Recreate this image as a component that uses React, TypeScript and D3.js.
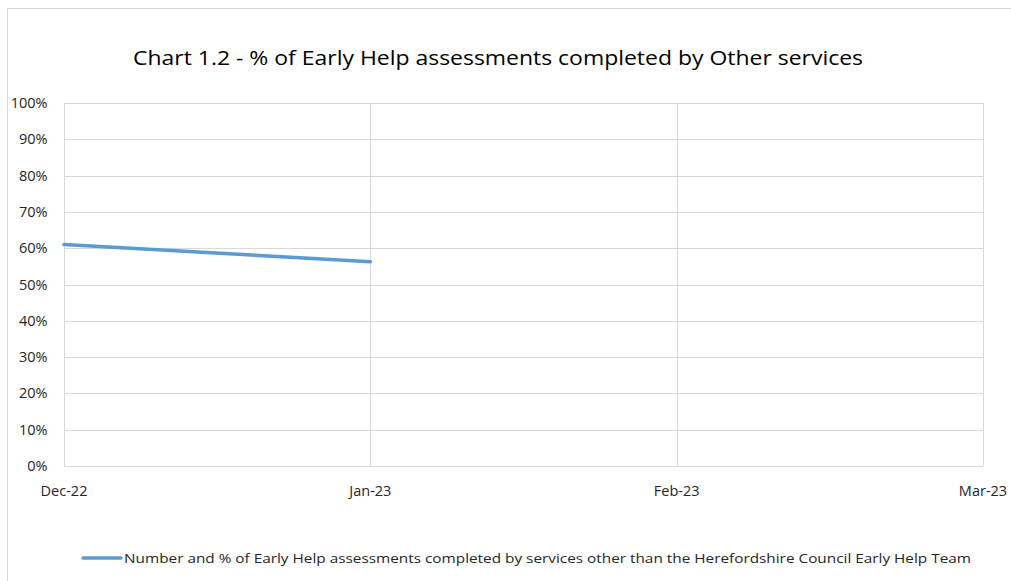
import React, { useEffect, useRef } from 'react';
import * as d3 from 'd3';

const months = ['Dec-22', 'Jan-23', 'Feb-23', 'Mar-23'];
const pctOther = [0.61, 0.563];
const yTicks = [0, 0.1, 0.2, 0.3, 0.4, 0.5, 0.6, 0.7, 0.8, 0.9, 1];
const title = 'Chart 1.2 - % of Early Help assessments completed by Other services';
const legendLabel =
  'Number and % of Early Help assessments completed by services other than the Herefordshire Council Early Help Team';

export default function App() {
  const ref = useRef<SVGSVGElement>(null);

  useEffect(() => {
    const width = 1011;
    const height = 581;
    const font = '"Open Sans", Lato, sans-serif';
    const grid = '#d9d9d9';
    const ink = '#262626';
    const m = { left: 64, right: 983, top: 103, bottom: 466 };

    const svg = d3.select(ref.current);
    svg.selectAll('*').remove();
    svg.attr('viewBox', [0, 0, width, height]).attr('width', width).attr('height', height);

    // chart frame
    svg
      .append('rect')
      .attr('x', 7.5)
      .attr('y', 8.5)
      .attr('width', width + 20)
      .attr('height', height + 20)
      .attr('fill', '#fff')
      .attr('stroke', grid);

    const x = d3
      .scalePoint<string>()
      .domain(months)
      .range([m.left, m.right]);
    const y = d3.scaleLinear().domain([0, 1]).range([m.bottom, m.top]);

    // horizontal grid + y labels
    svg
      .append('g')
      .selectAll('line')
      .data(yTicks)
      .join('line')
      .attr('x1', m.left)
      .attr('x2', m.right)
      .attr('y1', (d) => Math.round(y(d)) + 0.5)
      .attr('y2', (d) => Math.round(y(d)) + 0.5)
      .attr('stroke', grid);

    svg
      .append('g')
      .selectAll('text')
      .data(yTicks)
      .join('text')
      .attr('x', 47.5)
      .attr('y', (d) => y(d) + 5)
      .attr('text-anchor', 'end')
      .attr('font-family', font)
      .attr('font-size', 14.5)
      .attr('fill', ink)
      .text((d) => d3.format('.0%')(d));

    // vertical grid + x labels
    svg
      .append('g')
      .selectAll('line')
      .data(months)
      .join('line')
      .attr('x1', (d) => Math.round(x(d)!) + 0.5)
      .attr('x2', (d) => Math.round(x(d)!) + 0.5)
      .attr('y1', m.top)
      .attr('y2', m.bottom)
      .attr('stroke', grid);

    svg
      .append('g')
      .selectAll('text')
      .data(months)
      .join('text')
      .attr('x', (d) => x(d)!)
      .attr('y', 496)
      .attr('text-anchor', 'middle')
      .attr('font-family', font)
      .attr('font-size', 14.5)
      .attr('fill', ink)
      .text((d) => d);

    // series line
    const line = d3
      .line<number>()
      .x((d, i) => x(months[i])!)
      .y((d) => y(d));

    svg
      .append('path')
      .datum(pctOther)
      .attr('d', line)
      .attr('fill', 'none')
      .attr('stroke', '#5b9bd5')
      .attr('stroke-width', 3.5)
      .attr('stroke-linecap', 'round');

    // title
    svg
      .append('text')
      .attr('x', 498)
      .attr('y', 65)
      .attr('text-anchor', 'middle')
      .attr('font-family', font)
      .attr('font-size', 20)
      .attr('fill', '#000')
      .attr('textLength', 730)
      .attr('lengthAdjust', 'spacingAndGlyphs')
      .text(title);

    // legend
    svg
      .append('line')
      .attr('x1', 83)
      .attr('x2', 121)
      .attr('y1', 558)
      .attr('y2', 558)
      .attr('stroke', '#5b9bd5')
      .attr('stroke-width', 3.5)
      .attr('stroke-linecap', 'round');

    svg
      .append('text')
      .attr('x', 124)
      .attr('y', 563)
      .attr('font-family', font)
      .attr('font-size', 13.5)
      .attr('fill', ink)
      .attr('textLength', 847)
      .attr('lengthAdjust', 'spacingAndGlyphs')
      .text(legendLabel);
  }, []);

  return <svg ref={ref} style={{ position: 'absolute', left: 0, top: 0 }}></svg>;
}
